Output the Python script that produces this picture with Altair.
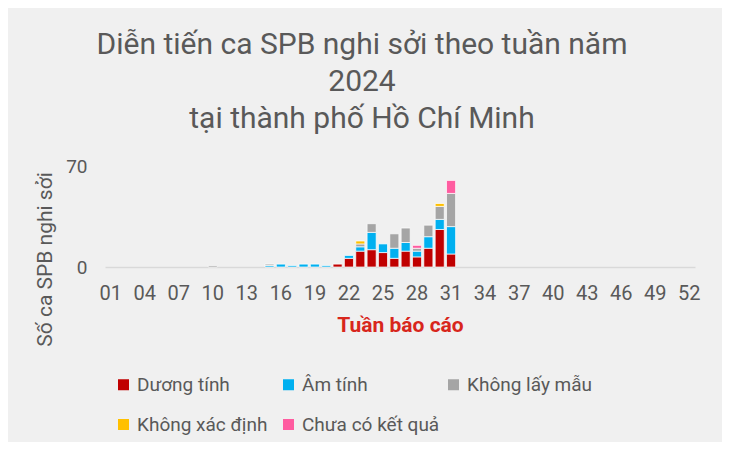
import altair as alt
import pandas as pd

weeks = ["01", "02", "03", "04", "05", "06", "07", "08", "09", "10", "11", "12", "13",
         "14", "15", "16", "17", "18", "19", "20", "21", "22", "23", "24", "25", "26",
         "27", "28", "29", "30", "31", "32", "33", "34", "35", "36", "37", "38", "39",
         "40", "41", "42", "43", "44", "45", "46", "47", "48", "49", "50", "51", "52"]
tick_weeks = ["01", "04", "07", "10", "13", "16", "19", "22", "25", "28", "31",
              "34", "37", "40", "43", "46", "49", "52"]

duong_tinh = [0, 0, 0, 0, 0, 0, 0, 0, 0, 0, 0, 0, 0,
              0, 0, 0, 0, 0, 0, 0, 2, 6, 11, 12, 10, 6,
              11, 7, 13, 26, 9, 0, 0, 0, 0, 0, 0, 0, 0,
              0, 0, 0, 0, 0, 0, 0, 0, 0, 0, 0, 0, 0]
am_tinh = [0, 0, 0, 0, 0, 0, 0, 0, 0, 0, 0, 0, 0,
           0, 1, 2, 1, 2, 2, 1, 0, 2, 3, 12, 6, 7,
           6, 4, 8, 7, 19, 0, 0, 0, 0, 0, 0, 0, 0,
           0, 0, 0, 0, 0, 0, 0, 0, 0, 0, 0, 0, 0]
khong_lay_mau = [0, 0, 0, 0, 0, 0, 0, 0, 0, 1, 0, 0, 0,
                 0, 1, 0, 0, 0, 0, 0, 0, 0, 2, 6, 0, 10,
                 10, 2, 8, 9, 23, 0, 0, 0, 0, 0, 0, 0, 0,
                 0, 0, 0, 0, 0, 0, 0, 0, 0, 0, 0, 0, 0]
khong_xac_dinh = [0, 0, 0, 0, 0, 0, 0, 0, 0, 0, 0, 0, 0,
                  0, 0, 0, 0, 0, 0, 0, 0, 0, 2, 0, 0, 0,
                  0, 0, 0, 2, 0, 0, 0, 0, 0, 0, 0, 0, 0,
                  0, 0, 0, 0, 0, 0, 0, 0, 0, 0, 0, 0, 0]
chua_co_ket_qua = [0, 0, 0, 0, 0, 0, 0, 0, 0, 0, 0, 0, 0,
                   0, 0, 0, 0, 0, 0, 0, 0, 0, 0, 0, 0, 0,
                   0, 2, 0, 0, 9, 0, 0, 0, 0, 0, 0, 0, 0,
                   0, 0, 0, 0, 0, 0, 0, 0, 0, 0, 0, 0, 0]

series_names = ["Dương tính", "Âm tính", "Không lấy mẫu", "Không xác định", "Chưa có kết quả"]
series_values = [duong_tinh, am_tinh, khong_lay_mau, khong_xac_dinh, chua_co_ket_qua]
series_colors = ["#c00000", "#00b0f0", "#a5a5a5", "#ffc000", "#ff5ca0"]

rows = []
for k, (name, vals) in enumerate(zip(series_names, series_values)):
    for w, v in zip(weeks, vals):
        if v > 0:
            rows.append({"week": w, "series": name, "value": v, "idx": k})
df = pd.DataFrame(rows)

FONT = "Roboto"
GRAY = "#595959"

chart = alt.Chart(df).mark_bar(stroke="white", strokeWidth=0.7).encode(
    x=alt.X("week:N", sort=weeks,
            scale=alt.Scale(domain=weeks, paddingInner=0.2, paddingOuter=0.1),
            axis=alt.Axis(values=tick_weeks, labelAngle=0, ticks=False,
                          domainColor="#d9d9d9", domainWidth=1.5,
                          labelFontSize=20, labelColor=GRAY, labelFont=FONT,
                          labelPadding=16,
                          title="Tuần báo cáo", titleColor="#d8261c",
                          titleFontSize=21, titleFont=FONT, titleFontWeight="bold",
                          titlePadding=11)),
    y=alt.Y("value:Q", stack="zero",
            scale=alt.Scale(domain=[0, 70], nice=False),
            axis=alt.Axis(values=[0, 70], grid=False, domain=False, ticks=False,
                          labelFontSize=19, labelColor=GRAY, labelFont=FONT,
                          labelPadding=18,
                          title="Số ca SPB nghi sởi", titleColor=GRAY,
                          titleFontSize=21, titleFont=FONT, titleFontWeight="normal",
                          titleX=-50, titleY=93)),
    color=alt.Color("series:N",
                    scale=alt.Scale(domain=series_names, range=series_colors),
                    legend=alt.Legend(title=None, orient="none", legendX=9, legendY=209,
                                      direction="horizontal",
                                      columns=3, gridAlign="all", columnPadding=4,
                                      rowPadding=20, symbolType="square", symbolSize=121,
                                      symbolStrokeWidth=0, labelOffset=4,
                                      labelFontSize=19, labelColor=GRAY, labelFont=FONT,
                                      labelLimit=300, padding=0)),
    order=alt.Order("idx:Q", sort="ascending"),
).properties(
    width=590,
    height=101,
    autosize=alt.AutoSizeParams(type="none"),
    padding={"left": 97, "top": 158, "right": 27, "bottom": 175},
    background="#f0f0f0",
    title=alt.TitleParams(
        text=["Diễn tiến ca SPB nghi sởi theo tuần năm", "2024", "tại thành phố Hồ Chí Minh"],
        fontSize=30, font=FONT, color=GRAY, fontWeight="normal",
        lineHeight=37, anchor="middle", dx=-38, offset=23),
).configure_view(stroke=None)

chart.save("out.html", embed_options={"renderer": "svg", "actions": False})
